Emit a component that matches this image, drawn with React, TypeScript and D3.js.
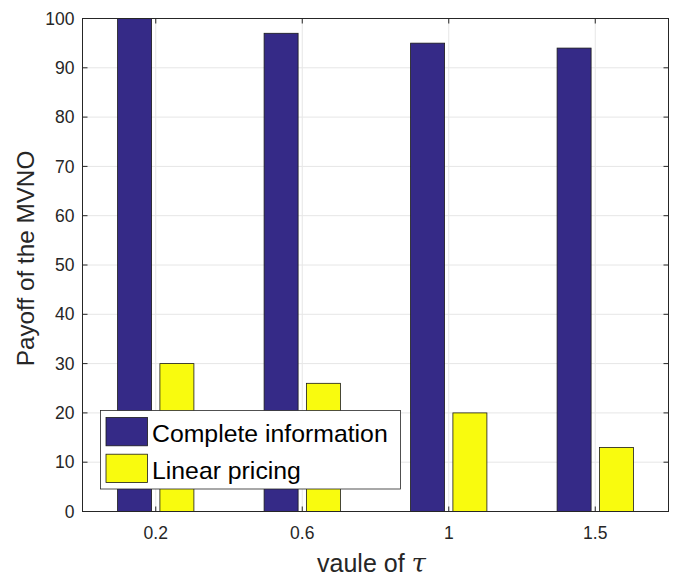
import React from "react";
import * as d3 from "d3";

const categories = ["0.2", "0.6", "1", "1.5"];
const completeInfo = [100, 97, 95, 94];
const linearPricing = [30, 26, 20, 13];
const yTicks = [0, 10, 20, 30, 40, 50, 60, 70, 80, 90, 100];
const seriesNames = ["Complete information", "Linear pricing"];
const seriesColors = ["#352a87", "#f9fb0e"];

const W = 673;
const H = 576;
const left = 82.5;
const right = 668.5;
const top = 18.5;
const bottom = 511.5;

export default function App() {
  const x = d3.scaleBand<string>().domain(categories).range([left, right]).padding(0);
  const y = d3.scaleLinear().domain([0, 100]).range([bottom, top]);
  const barW = 34;
  const gap = 8.3;
  const series = [completeInfo, linearPricing];
  const axisColor = "#262626";
  const font = "'Liberation Sans', Arial, sans-serif";
  return (
    <svg width={W} height={H} style={{ position: "absolute", left: 0, top: 0 }} fontFamily={font}>
      <rect x={0} y={0} width={W} height={H} fill="#fff" />
      {/* grid */}
      {yTicks.map((t) => (
        <line key={"gy" + t} x1={left} x2={right} y1={y(t)} y2={y(t)} stroke="#e6e6e6" strokeWidth={1} />
      ))}
      {categories.map((c) => {
        const cx = x(c)! + x.bandwidth() / 2;
        return <line key={"gx" + c} x1={cx} x2={cx} y1={top} y2={bottom} stroke="#e6e6e6" strokeWidth={1} />;
      })}
      {/* bars */}
      {series.map((vals, si) =>
        vals.map((v, i) => {
          const cx = x(categories[i])! + x.bandwidth() / 2;
          const bx = si === 0 ? cx - gap / 2 - barW : cx + gap / 2;
          return (
            <rect
              key={si + "-" + i}
              x={bx}
              y={y(v)}
              width={barW}
              height={y(0) - y(v)}
              fill={seriesColors[si]}
              stroke="#1a1a1a"
              strokeWidth={0.8}
            />
          );
        })
      )}
      {/* box */}
      <rect x={left} y={top} width={right - left} height={bottom - top} fill="none" stroke={axisColor} strokeWidth={1} />
      {/* y ticks */}
      {yTicks.map((t) => (
        <g key={"ty" + t}>
          <line x1={left} x2={left + 5} y1={y(t)} y2={y(t)} stroke={axisColor} />
          <line x1={right} x2={right - 5} y1={y(t)} y2={y(t)} stroke={axisColor} />
          <text x={left - 8} y={y(t)} dy="0.35em" textAnchor="end" fontSize={17.5} fill={axisColor}>
            {t}
          </text>
        </g>
      ))}
      {/* x ticks */}
      {categories.map((c) => {
        const cx = x(c)! + x.bandwidth() / 2;
        return (
          <g key={"tx" + c}>
            <line x1={cx} x2={cx} y1={bottom} y2={bottom - 5} stroke={axisColor} />
            <line x1={cx} x2={cx} y1={top} y2={top + 5} stroke={axisColor} />
            <text x={cx} y={539} textAnchor="middle" fontSize={17.5} fill={axisColor}>
              {c}
            </text>
          </g>
        );
      })}
      {/* axis labels */}
      <text x={371.5} y={571.5} textAnchor="middle" fontSize={25} fill={axisColor}>
        vaule of{" "}
        <tspan fontFamily="'DejaVu Serif', 'Liberation Serif', serif" fontStyle="italic" fontSize={26}>
          τ
        </tspan>
      </text>
      <text
        transform={`translate(33.5,258.5) rotate(-90)`}
        textAnchor="middle"
        fontSize={24.3}
        fill={axisColor}
      >
        Payoff of the MVNO
      </text>
      {/* legend */}
      <g>
        <rect x={100.5} y={410.5} width={300} height={78.5} fill="#fff" stroke="#262626" strokeWidth={0.8} />
        {seriesNames.map((n, i) => (
          <g key={n}>
            <rect
              x={106}
              y={417.5 + i * 36.7}
              width={41.5}
              height={28.3}
              fill={seriesColors[i]}
              stroke="#1a1a1a"
              strokeWidth={0.8}
            />
            <text x={152} y={442.3 + i * 36.7} fontSize={24.8} fill="#000">
              {n}
            </text>
          </g>
        ))}
      </g>
    </svg>
  );
}
